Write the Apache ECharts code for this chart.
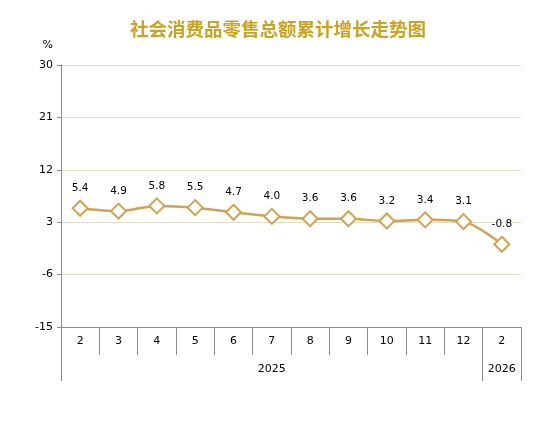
<!DOCTYPE html>
<html>
<head>
<meta charset="utf-8">
<script src="https://cdn.jsdelivr.net/npm/echarts@6/dist/echarts.min.js"></script>
<style>html,body{margin:0;padding:0;background:#fff}#c{width:533px;height:423px}</style>
</head>
<body>
<div id="c"></div>
<script>
const months = ['2','3','4','5','6','7','8','9','10','11','12','2'];
const values = [5.4, 4.9, 5.8, 5.5, 4.7, 4.0, 3.6, 3.6, 3.2, 3.4, 3.1, -0.8];
const yTicks = [-15, -6, 3, 12, 21, 30];
const years = ['2025', '2026'];
const yearBounds = [0, 11, 12];
const yearCenters = [5.5, 11.5];

const chart = echarts.init(document.getElementById('c'), null, {renderer: 'canvas'});
const font = 'DejaVu Sans';
chart.setOption({
  animation: false,
  title: {
    text: '社会消费品零售总额累计增长走势图',
    left: 125, top: 15,
    textStyle: {fontFamily: 'Noto Sans CJK SC', fontSize: 18.5, fontWeight: 'bold', color: '#CFA21E'}
  },
  grid: {left: 61, right: 12, top: 65, bottom: 96, containLabel: false},
  xAxis: [{
    type: 'category', data: months, position: 'bottom', boundaryGap: true,
    axisLine: {show: true, onZero: false, lineStyle: {color: '#8c8c8c', width: 1}},
    axisTick: {show: true, length: 28, lineStyle: {color: '#8c8c8c'}},
    axisLabel: {color: '#000', fontFamily: font, fontSize: 11, margin: 9, interval: 0}
  }, {
    type: 'value', min: 0, max: 12, position: 'bottom', offset: 28,
    gridIndex: 0,
    axisLine: {show: false, onZero: false},
    splitLine: {show: false},
    axisTick: {show: true, length: 26, customValues: yearBounds, lineStyle: {color: '#8c8c8c'}},
    axisLabel: {
      customValues: yearCenters, color: '#000', fontFamily: font, fontSize: 11, margin: 9,
      formatter: function (v) { return v < 11 ? years[0] : years[1]; }
    }
  }],
  yAxis: {
    type: 'value', min: -15, max: 30,
    name: '%', nameLocation: 'end', nameGap: 14,
    nameTextStyle: {color: '#000', fontFamily: font, fontSize: 11, align: 'right', padding: [0, 8, 0, 0]},
    axisLine: {show: true, lineStyle: {color: '#8c8c8c'}},
    axisTick: {show: true, length: 4, inside: false, customValues: yTicks, lineStyle: {color: '#8c8c8c'}},
    axisLabel: {customValues: yTicks, color: '#000', fontFamily: font, fontSize: 11, margin: 8},
    splitLine: {show: true, lineStyle: {color: '#E2DDC4', width: 1}}
  },
  series: [{
    type: 'line', data: values, xAxisIndex: 0, smooth: 0.3,
    symbol: 'diamond', symbolSize: 15,
    lineStyle: {color: '#D4A24A', width: 2.5},
    itemStyle: {color: '#fff', borderColor: '#D4A24A', borderWidth: 2},
    label: {show: true, position: 'top', distance: 6, color: '#000', fontFamily: font, fontSize: 10.5,
      formatter: function (p) { return p.value.toFixed(1); }}
  }]
});
</script>
</body>
</html>
